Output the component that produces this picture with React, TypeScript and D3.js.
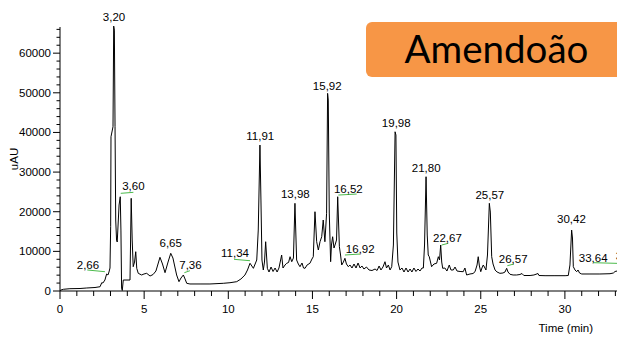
import React from "react";
import * as d3 from "d3";

// Chromatogram trace: [time (min), signal (uAU)]
const traceTime = [
  0.0, 0.06, 0.2, 0.59, 1.19, 1.59, 2.08, 2.38, 2.48, 2.55, 2.67, 2.77, 2.85, 2.91, 2.97, 3.01, 3.03, 3.15, 3.19, 3.23,
  3.27, 3.31, 3.36, 3.4, 3.51, 3.58, 3.62, 3.66, 3.7, 3.76, 4.16, 4.23, 4.29, 4.35, 4.43, 4.5, 4.56, 4.65, 4.85, 4.99,
  5.15, 5.35, 5.53, 5.7, 5.94, 6.09, 6.24, 6.42, 6.58, 6.71, 6.93, 7.07, 7.19, 7.33, 7.43, 7.53, 7.72, 8.32, 8.91, 9.7,
  10.1, 10.5, 10.75, 10.99, 11.14, 11.29, 11.49, 11.69, 11.78, 11.88, 11.94, 12.0, 12.08, 12.15, 12.22, 12.32, 12.42, 12.54, 12.66, 12.78,
  12.9, 13.01, 13.17, 13.25, 13.37, 13.47, 13.58, 13.67, 13.77, 13.87, 13.96, 14.06, 14.16, 14.26, 14.38, 14.47, 14.56, 14.68, 14.85, 14.97,
  15.05, 15.15, 15.25, 15.35, 15.45, 15.55, 15.64, 15.74, 15.84, 15.9, 15.94, 16.0, 16.08, 16.13, 16.2, 16.28, 16.34, 16.43, 16.5, 16.6,
  16.67, 16.74, 16.84, 16.93, 17.02, 17.13, 17.23, 17.35, 17.47, 17.59, 17.71, 17.83, 17.94, 18.06, 18.21, 18.36, 18.54, 18.72, 18.84, 18.96,
  19.07, 19.19, 19.31, 19.4, 19.51, 19.61, 19.71, 19.81, 19.91, 19.96, 20.01, 20.08, 20.2, 20.32, 20.44, 20.56, 20.68, 20.8, 20.91, 21.03,
  21.15, 21.27, 21.39, 21.51, 21.59, 21.66, 21.75, 21.82, 21.88, 21.94, 22.08, 22.22, 22.38, 22.48, 22.55, 22.62, 22.68, 22.74, 22.87, 22.99,
  23.13, 23.23, 23.37, 23.47, 23.59, 23.77, 23.96, 24.06, 24.16, 24.36, 24.54, 24.66, 24.78, 24.85, 24.92, 25.0, 25.07, 25.15, 25.25, 25.31,
  25.4, 25.51, 25.57, 25.65, 25.73, 25.85, 25.97, 26.14, 26.32, 26.44, 26.54, 26.62, 26.74, 26.92, 27.13, 27.33, 27.45, 27.56, 27.93, 28.16,
  28.4, 28.46, 28.82, 29.41, 30.01, 30.2, 30.3, 30.4, 30.45, 30.5, 30.6, 30.7, 30.78, 30.87, 31.0, 31.49, 32.08, 32.68, 32.88, 32.98,
  33.1, 33.39,
];
const traceSignal = [
  80, 250, 430, 580, 630, 760, 880, 1080, 2090, 2020, 2770, 4290, 4040, 4790, 5800, 16220, 38910, 41440, 66830, 65820,
  41440, 17910, 12860, 12360, 21690, 23780, 15380, 760, 130, 2770, 2770, 23380, 12860, 6130, 7310, 9910, 5720, 4460, 4040, 4290,
  4460, 3780, 4160, 5040, 8500, 6810, 4620, 7310, 9510, 8320, 4040, 2350, 3280, 4040, 3030, 1940, 1770, 1770, 1770, 1940,
  2090, 2350, 3030, 4040, 5300, 6990, 5720, 7820, 15380, 36820, 22950, 7820, 5300, 7310, 12430, 5720, 4790, 6050, 4920, 5800,
  4790, 5800, 9080, 5800, 6560, 6990, 7190, 8650, 7390, 8320, 22120, 7820, 6810, 6130, 7060, 5800, 5720, 6560, 6990, 8070,
  8650, 20000, 12430, 10340, 12430, 13690, 17910, 12430, 19600, 49860, 48170, 19670, 7390, 11600, 13690, 10840, 11600, 12860, 23780, 11170,
  9080, 6560, 7310, 8250, 6810, 6130, 6560, 5800, 6810, 5800, 7060, 5800, 6310, 5550, 6050, 5300, 5170, 5550, 5170, 6310,
  5300, 6050, 7390, 5800, 6560, 5300, 6130, 11600, 40170, 39340, 14630, 7310, 5300, 5800, 4790, 5800, 4790, 5550, 4790, 5800,
  4920, 5550, 5040, 5800, 5800, 11600, 28830, 14120, 9080, 8650, 6130, 6810, 6990, 8650, 7820, 11600, 7310, 5720, 5800, 5040,
  6560, 5300, 5300, 6050, 5040, 4920, 4870, 5800, 4040, 4290, 4410, 4870, 6560, 8650, 6310, 4870, 5800, 6560, 5800, 5300,
  9080, 22120, 19920, 8650, 6810, 5300, 4790, 4460, 4540, 4790, 5720, 4790, 4210, 4040, 4040, 4160, 4410, 3910, 3910, 4040,
  4410, 3910, 3860, 3860, 3860, 3910, 6560, 15380, 13370, 6130, 5300, 4870, 5300, 4540, 4290, 4290, 4290, 4360, 4540, 4920,
  5040, 5040,
];

// Peak labels: text, label centre time, label baseline signal
const peakLabels = ["3,20", "2,66", "3,60", "6,65", "7,36", "11,34", "11,91", "13,98", "15,92", "16,52", "16,92", "19,98", "21,80", "22,67", "25,57", "26,57", "30,42", "33,64", "34,18"];
const labelTimes = [3.21, 1.66, 4.36, 6.58, 7.75, 10.4, 11.9, 13.98, 15.88, 17.13, 17.84, 19.98, 21.76, 23.02, 25.54, 26.93, 30.39, 31.68, 33.87];
const labelSignals = [68100, 5550, 25470, 11020, 5470, 8500, 38080, 23530, 50690, 24790, 9660, 41440, 29940, 12430, 23200, 7140, 17070, 7390, 7940];

// Integration baselines (green): [t1, v1, t2, v2]
const baselineMarks: [number, number, number, number][] = [
  [1.62, 5300, 2.67, 4870],
  [3.61, 24640, 4.36, 24890],
  [7.39, 4620, 7.72, 5120],
  [10.34, 7990, 11.29, 7640],
  [16.54, 24210, 17.63, 24460],
  [16.93, 9080, 17.83, 9330],
  [22.68, 11600, 23.07, 12030],
  [26.58, 6380, 26.97, 6810],
  [31.69, 7140, 34.5, 6810],
];

const xMajorTicks = [0, 5, 10, 15, 20, 25, 30];
const yMajorTicks = [0, 10000, 20000, 30000, 40000, 50000, 60000];
const title = "Amendoão";

const W = 617;
const H = 338;

export default function App() {
  const x = d3.scaleLinear().domain([0, 34]).range([60, 60 + 34 * 16.83]);
  const y = d3.scaleLinear().domain([0, 66600]).range([291, 27]);

  const pts: [number, number][] = traceTime.map((t, i) => [t, traceSignal[i]]);
  const line = d3
    .line<[number, number]>()
    .x((d) => x(d[0]))
    .y((d) => y(d[1]));

  const xMinor = d3.range(0, 35, 1);
  const yMinor = d3.range(0, 66001, 2000);
  const font = "'Liberation Sans', Arial, sans-serif";

  return (
    <svg
      width={W}
      height={H}
      viewBox={`0 0 ${W} ${H}`}
      style={{ position: "absolute", left: 0, top: 0, background: "#fff" }}
    >
      <rect x={0} y={0} width={W} height={H} fill="#fff" />
      {/* axes */}
      <line x1={60} x2={60} y1={y(0)} y2={y(66600)} stroke="#000" strokeWidth={1} />
      <line x1={60} x2={W + 20} y1={y(0)} y2={y(0)} stroke="#000" strokeWidth={1} />
      {yMinor.map((v) => {
        const major = v % 10000 === 0;
        return (
          <line key={"ym" + v} x1={60 - (major ? 7 : 3.5)} x2={60} y1={y(v)} y2={y(v)} stroke="#000" strokeWidth={1} />
        );
      })}
      {yMajorTicks.map((v) => (
        <text key={"yl" + v} x={51} y={y(v) + 4} fontSize={11.5} fontFamily={font} textAnchor="end" fill="#000">
          {v}
        </text>
      ))}
      {xMinor.map((t) => {
        const major = t % 5 === 0;
        return (
          <line key={"xm" + t} x1={x(t)} x2={x(t)} y1={y(0)} y2={y(0) + (major ? 8 : 5)} stroke="#000" strokeWidth={1} />
        );
      })}
      {xMajorTicks.map((t) => (
        <text key={"xl" + t} x={x(t)} y={313} fontSize={11.5} fontFamily={font} textAnchor="middle" fill="#000">
          {t}
        </text>
      ))}
      <text x={593} y={332} fontSize={11.5} fontFamily={font} textAnchor="end" fill="#000">
        Time (min)
      </text>
      <text
        transform="translate(17.5,159) rotate(-90)"
        fontSize={11.5}
        fontFamily={font}
        textAnchor="middle"
        fill="#000"
      >
        uAU
      </text>

      {/* trace */}
      <path d={line(pts) || ""} fill="none" stroke="#000" strokeWidth={1} strokeLinejoin="round" />

      {/* integration baselines */}
      {baselineMarks.map((b, i) => (
        <line key={"bl" + i} x1={x(b[0])} y1={y(b[1])} x2={x(b[2])} y2={y(b[3])} stroke="#4cbb4c" strokeWidth={1} />
      ))}

      {/* peak labels */}
      {peakLabels.map((s, i) => (
        <text
          key={"pl" + i}
          x={x(labelTimes[i])}
          y={y(labelSignals[i])}
          fontSize={11.5}
          fontFamily={font}
          textAnchor="middle"
          fill="#000"
        >
          {s}
        </text>
      ))}

      {/* title box */}
      <rect x={366} y={22} width={270} height={55} rx={6} ry={6} fill="#F79646" />
      <text x={496.5} y={63} fontSize={38.5} fontFamily="Lato, 'Open Sans', sans-serif" textAnchor="middle" fill="#000">
        {title}
      </text>
    </svg>
  );
}
